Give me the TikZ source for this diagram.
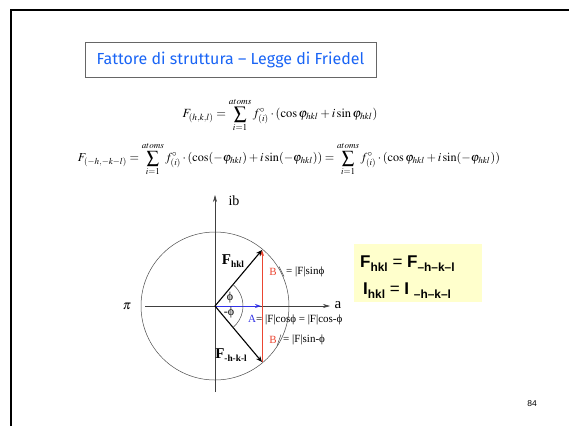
\documentclass[tikz,border=0pt]{standalone}
\usepackage{graphicx}
\usepackage{mathptmx}
\usepackage{fontspec}
\setmainfont{Liberation Serif}
\setsansfont{Liberation Sans}
\newfontfamily\titlefont{Fira Sans}
\usetikzlibrary{arrows.meta}
\definecolor{ttlblue}{RGB}{25,100,245}
\definecolor{boxyellow}{RGB}{255,255,204}
\definecolor{vred}{RGB}{235,70,50}
\definecolor{vblue}{RGB}{50,50,230}
\newcommand{\lowsub}[2][0.62]{\raisebox{-0.45ex}{\scalebox{#1}{#2}}}
\begin{document}
\begin{tikzpicture}[x=1pt,y=-1pt,
  ax/.style={line width=0.6pt, draw=black!75},
  vec/.style={line width=1.1pt, -{Stealth[length=6pt,width=5pt]}},
  lbl/.style={inner sep=0pt, font=\fontsize{11}{12}\selectfont},
  boxtxt/.style={inner sep=0pt, anchor=base west, font=\sffamily\fontsize{17}{19}\selectfont},
]
\useasboundingbox (0,0) rectangle (569,426);
% slide frame
\draw[line width=2.2pt] (11,426) -- (11,10) -- (569,10);
% title
\node[draw=black!60, line width=0.8pt, minimum width=291pt, minimum height=35pt, inner sep=0pt,
      text=ttlblue, font=\titlefont\fontsize{16}{18}\selectfont] (title) at (230.5,59.5)
      {Fattore di struttura – Legge di Friedel};
% equations
\node[inner sep=0pt] (eq1) at (280,115)
  {\resizebox{195pt}{!}{$\displaystyle F_{(h,k,l)}= \sum_{i=1}^{atoms} f^{\circ}_{(i)}\cdot(\cos\varphi_{hkl}+i\sin\varphi_{hkl})$}};
\node[inner sep=0pt] (eq2) at (289,159)
  {\resizebox{422pt}{!}{$\displaystyle F_{(-h,-k-l)} = \sum_{i=1}^{atoms} f^{\circ}_{(i)}\cdot(\cos(-\varphi_{hkl})+i\sin(-\varphi_{hkl})) = \sum_{i=1}^{atoms} f^{\circ}_{(i)}\cdot(\cos\varphi_{hkl}+i\sin(-\varphi_{hkl}))$}};
% diagram
\coordinate (O) at (215,306);
\node[draw=black!70, line width=0.5pt, circle, minimum size=148pt, inner sep=0pt] (circ) at (O) {};
\coordinate (xs) at (145,306);
\coordinate (xe) at (330,306);
\coordinate (ys) at (215,392);
\coordinate (ye) at (215,195);
\draw[ax, -{Stealth[length=7pt,width=4pt]}] (xs) -- (xe);
\draw[ax, -{Stealth[length=7pt,width=4pt]}] (ys) -- (ye);
\node[lbl, font=\fontsize{14}{16}\selectfont] (ib) at (234,201) {ib};
\node[lbl, font=\fontsize{13}{15}\selectfont] (pi) at (127,306) {$\pi$};
\node[lbl, font=\fontsize{15}{17}\selectfont] (alab) at (338,305) {a};
\coordinate (P) at (262,250);
\coordinate (Q) at (262,362);
\coordinate (Ax) at (261,306);
\draw[vred, line width=0.8pt, -{Stealth[length=6pt,width=4pt]}] (Q) -- (P);
\draw[vblue, line width=0.8pt, -{Stealth[length=6pt,width=4pt]}] (O) -- (Ax);
\draw[vec] (O) -- (P);
\draw[vec] (O) -- (Q);
\draw[black!70, line width=0.5pt] (O) ++(-50:28) arc[start angle=-50, end angle=50, radius=28];
\node[lbl, font=\fontsize{12}{14}\selectfont] (phi1) at (230,298) {ϕ};
\node[lbl, font=\fontsize{12}{14}\selectfont] (phi2) at (229,313) {-ϕ};
\node[lbl, font=\bfseries\fontsize{15}{17}\selectfont] (Fh) at (233,261) {F\lowsub{hkl}};
\node[lbl, font=\bfseries\fontsize{15}{17}\selectfont] (Fm) at (231,355) {F\lowsub{-h-k-l}};
% B upper
\node[lbl, text=vred] (B1) at (273,272) {B};
\coordinate (s1a) at (279,266.5);
\coordinate (s1b) at (284,276.5);
\draw[black!70, line width=0.5pt] (s1a) -- (s1b);
\node[lbl, anchor=west] (B1t) at (286,271.5) {= |F|sinϕ};
% A
\node[lbl, anchor=west] (At) at (248,319.5) {\textcolor{vblue}{A}= |F|cosϕ = |F|cos-ϕ};
% B lower
\node[lbl, text=vred] (B2) at (273,340) {B};
\coordinate (s2a) at (281,334.5);
\coordinate (s2b) at (277,346);
\draw[black!70, line width=0.5pt] (s2a) -- (s2b);
\node[lbl, anchor=west] (B2t) at (283,340) {= |F|sin-ϕ};
% yellow box
\node[fill=boxyellow, minimum width=128pt, minimum height=58pt, inner sep=0pt] (ybox) at (417.5,272.5) {};
\node[boxtxt] (l1) at (360,267.5) {\textbf{F}\lowsub[0.7]{\textbf{hkl}} = \textbf{F}\lowsub[0.7]{\textbf{–h–k–l}}};
\node[boxtxt] (l2) at (363,294) {\textbf{I}\lowsub[0.7]{\textbf{hkl}} = \textbf{I} \lowsub[0.7]{\textbf{–h–k–l}}};
% page number
\node[inner sep=0pt, font=\sffamily\fontsize{8.5}{10}\selectfont] (pg) at (532,404) {84};
\end{tikzpicture}
\end{document}
